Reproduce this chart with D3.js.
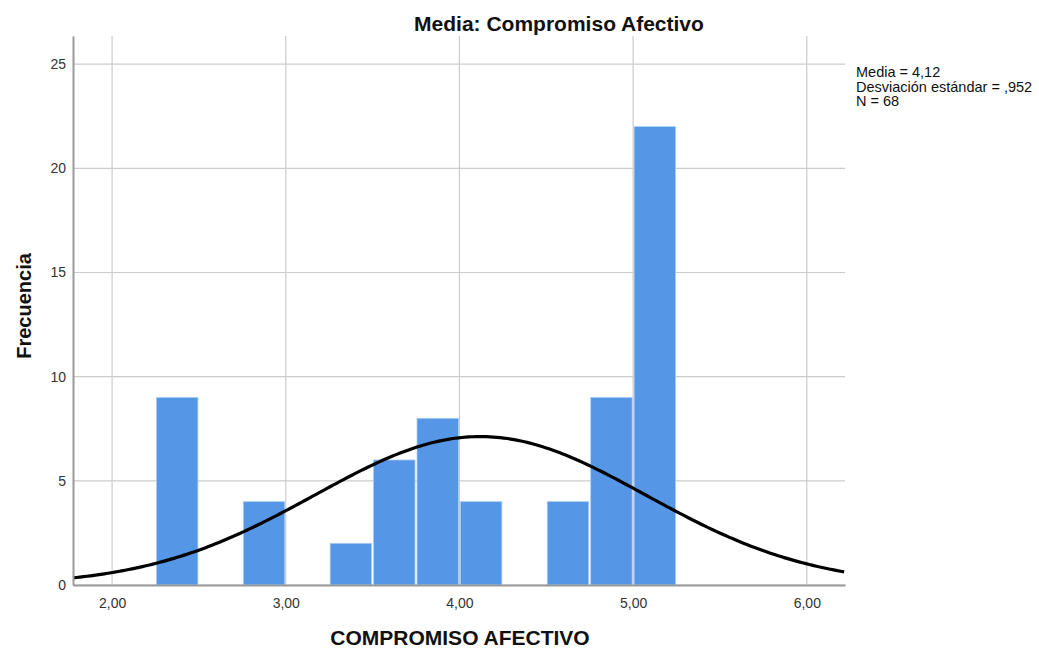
<!DOCTYPE html>
<html>
<head>
<meta charset="utf-8">
<script src="https://cdn.jsdelivr.net/npm/d3@7"></script>
<style>
  body { margin: 0; background: #fff; font-family: "Liberation Sans", Arial, sans-serif; }
</style>
</head>
<body>
<div id="chart"></div>
<script>
// histogram bins (lower edge, upper edge) and their frequencies
var binStarts = [2.25, 2.75, 3.25, 3.50, 3.75, 4.00, 4.50, 4.75, 5.00];
var binEnds   = [2.50, 3.00, 3.50, 3.75, 4.00, 4.25, 4.75, 5.00, 5.25];
var frequencies = [9, 4, 2, 6, 8, 4, 4, 9, 22];

var xTicks = [2, 3, 4, 5, 6];
var yTicks = [0, 5, 10, 15, 20, 25];

// statistics shown in the legend, also used for the normal curve
var media = 4.12, desviacion = 0.952, n = 68, binWidth = 0.25;
var legendLines = ["Media = 4,12", "Desviación estándar = ,952", "N = 68"];

var width = 1039, height = 653;
var margin = {top: 36, left: 73, right: 194, bottom: 68};
var plotW = width - margin.left - margin.right,
    plotH = height - margin.top - margin.bottom;

var svg = d3.select("#chart").append("svg").attr("width", width).attr("height", height);
var g = svg.append("g").attr("transform", "translate(" + margin.left + "," + margin.top + ")");

var x = d3.scaleLinear().domain([1.775, 6.22]).range([0, plotW]);
var y = d3.scaleLinear().domain([0, 26.35]).range([plotH, 0]);

// grid lines
g.append("g").selectAll("line").data(xTicks).enter().append("line")
    .attr("x1", function (d) { return x(d); }).attr("x2", function (d) { return x(d); })
    .attr("y1", 0).attr("y2", plotH)
    .attr("stroke", "#cccccc").attr("stroke-width", 1.2);
g.append("g").selectAll("line").data(yTicks).enter().append("line")
    .attr("x1", 0).attr("x2", plotW)
    .attr("y1", function (d) { return y(d); }).attr("y2", function (d) { return y(d); })
    .attr("stroke", "#cccccc").attr("stroke-width", 1.2);

// bars
g.selectAll(".bar").data(frequencies).enter().append("rect")
    .attr("class", "bar")
    .attr("x", function (d, i) { return x(binStarts[i]) + 1; })
    .attr("width", function (d, i) { return x(binEnds[i]) - x(binStarts[i]) - 2; })
    .attr("y", function (d) { return y(d); })
    .attr("height", function (d) { return plotH - y(d); })
    .attr("fill", "#5596e6")
    .attr("stroke", "#a9cbf3").attr("stroke-width", 0.8);

// normal curve from mean, sd and N
var curveX = d3.range(x.domain()[0], x.domain()[1] + 0.001, 0.02);
var normal = function (v) {
    return n * binWidth / (desviacion * Math.sqrt(2 * Math.PI)) *
        Math.exp(-0.5 * Math.pow((v - media) / desviacion, 2));
};
g.append("path")
    .datum(curveX)
    .attr("fill", "none").attr("stroke", "#000").attr("stroke-width", 3.2)
    .attr("d", d3.line().x(function (d) { return x(d); }).y(function (d) { return y(normal(d)); }));

// axes
var xAxis = g.append("g").attr("transform", "translate(0," + plotH + ")")
    .call(d3.axisBottom(x).tickValues(xTicks).tickSize(0).tickPadding(13)
        .tickFormat(function (d) { return d3.format(".2f")(d).replace(".", ","); }));
xAxis.select(".domain").attr("stroke", "#999").attr("stroke-width", 2);
xAxis.selectAll("text").attr("font-size", 14).attr("fill", "#333")
    .attr("font-family", "Liberation Sans, Arial, sans-serif");

var yAxis = g.append("g")
    .call(d3.axisLeft(y).tickValues(yTicks).tickSize(0).tickPadding(7));
yAxis.select(".domain").attr("stroke", "#999").attr("stroke-width", 2);
yAxis.selectAll("text").attr("font-size", 14).attr("fill", "#333")
    .attr("font-family", "Liberation Sans, Arial, sans-serif");

// titles
svg.append("text").attr("x", 559).attr("y", 31).attr("text-anchor", "middle")
    .attr("font-size", 21).attr("font-weight", "bold").attr("fill", "#111")
    .text("Media: Compromiso Afectivo");
svg.append("text").attr("x", 460).attr("y", 645).attr("text-anchor", "middle")
    .attr("font-size", 21).attr("font-weight", "bold").attr("fill", "#111")
    .text("COMPROMISO AFECTIVO");
svg.append("text").attr("transform", "translate(31,306) rotate(-90)").attr("text-anchor", "middle")
    .attr("font-size", 20).attr("font-weight", "bold").attr("fill", "#111")
    .text("Frecuencia");

// legend
svg.append("g").selectAll("text").data(legendLines).enter().append("text")
    .attr("x", 856).attr("y", function (d, i) { return 77 + i * 14.5; })
    .attr("font-size", 14.5).attr("fill", "#111")
    .text(function (d) { return d; });
</script>
</body>
</html>
